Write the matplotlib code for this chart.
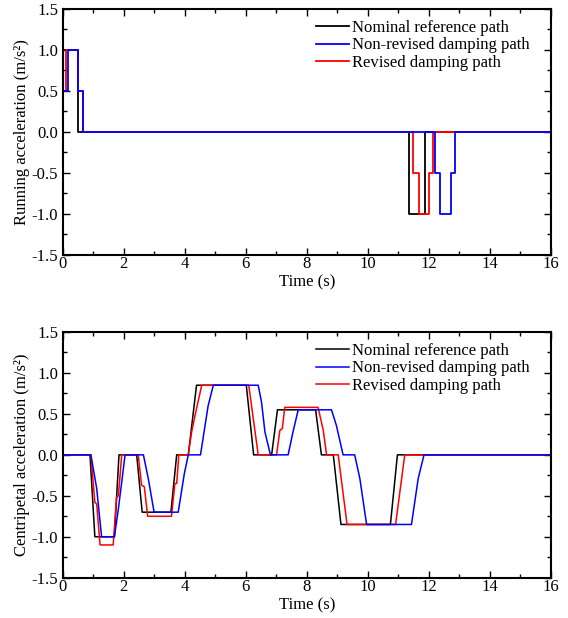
import matplotlib
matplotlib.use("Agg")
import matplotlib.pyplot as plt
from matplotlib.ticker import MultipleLocator, FormatStrFormatter

plt.rcParams['font.family'] = ['Liberation Serif', 'DejaVu Serif']
plt.rcParams['axes.unicode_minus'] = False
plt.rcParams['font.size'] = 12

labels = ["Nominal reference path", "Non-revised damping path", "Revised damping path"]
colors = ["#000000", "#0000FF", "#FF0000"]

# ---- Running acceleration (top) ----
run_black_t = [0, 0, 0.5, 0.5, 11.34, 11.34, 11.86, 11.86, 16]
run_black_v = [0, 1.0, 1.0, 0, 0, -1.0, -1.0, 0, 0]
run_blue_t = [0, 0, 0.17, 0.17, 0.5, 0.5, 0.66, 0.66, 12.21, 12.21, 12.38, 12.38, 12.72, 12.72, 12.86, 12.86, 16]
run_blue_v = [0, 0.5, 0.5, 1.0, 1.0, 0.5, 0.5, 0, 0, -0.5, -0.5, -1.0, -1.0, -0.5, -0.5, 0, 0]
run_red_t = [0, 0, 0.12, 0.12, 0.5, 0.5, 0.66, 0.66, 11.48, 11.48, 11.67, 11.67, 11.99, 11.99, 12.14, 12.14, 16]
run_red_v = [0, 0.5, 0.5, 1.0, 1.0, 0.5, 0.5, 0, 0, -0.5, -0.5, -1.0, -1.0, -0.5, -0.5, 0, 0]

# ---- Centripetal acceleration (bottom) ----
cen_black_t = [0, 0.90, 1.06, 1.70, 1.85, 2.43, 2.61, 3.55, 3.74, 4.12, 4.39, 6.02, 6.26,
               6.85, 7.04, 8.29, 8.48, 8.87, 9.12, 10.74, 10.97, 16]
cen_black_v = [0, 0, -1.0, -1.0, 0, 0, -0.7, -0.7, 0, 0, 0.85, 0.85, 0,
               0, 0.55, 0.55, 0, 0, -0.85, -0.85, 0, 0]
cen_red_t = [0, 0.93, 1.06, 1.12, 1.23, 1.66, 1.77, 1.83, 1.94, 2.48, 2.59, 2.68, 2.79,
             3.57, 3.68, 3.74, 3.81, 4.12, 4.23, 4.34, 4.56, 6.10, 6.41, 7.01, 7.12,
             7.20, 7.28, 8.37, 8.48, 8.54, 8.65, 9.03, 9.32, 10.91, 11.21, 16]
cen_red_v = [0, 0, -0.58, -0.60, -1.1, -1.1, -0.52, -0.50, 0, 0, -0.37, -0.39, -0.75,
             -0.75, -0.35, -0.35, 0, 0, 0.28, 0.48, 0.85, 0.85, 0, 0, 0.30,
             0.32, 0.58, 0.58, 0.40, 0.30, 0, 0, -0.85, -0.85, 0, 0]
cen_blue_t = [0, 0.93, 1.12, 1.28, 1.70, 1.83, 2.05, 2.65, 2.81, 3.0, 3.79, 3.99, 4.12,
              4.52, 4.77, 4.94, 6.41, 6.52, 6.63, 6.81, 7.39, 7.55, 7.72, 8.81, 8.97,
              9.19, 9.57, 9.74, 9.85, 9.96, 11.43, 11.65, 11.84, 16]
cen_blue_v = [0, 0, -0.41, -1.0, -1.0, -0.66, 0, 0, -0.29, -0.7, -0.7, -0.23, 0,
              0, 0.60, 0.85, 0.85, 0.64, 0.28, 0, 0, 0.28, 0.55, 0.55, 0.36,
              0, 0, -0.29, -0.57, -0.85, -0.85, -0.29, 0, 0]

W, H = 568, 618
fig = plt.figure(figsize=(W / 100, H / 100), dpi=100)

def make_axes(top_px, bottom_px):
    left, right = 62.5, 551
    return fig.add_axes([left / W, 1 - bottom_px / H, (right - left) / W, (bottom_px - top_px) / H])

def style(ax, ylabel):
    ax.set_xlim(0, 16)
    ax.set_ylim(-1.5, 1.5)
    ax.xaxis.set_major_locator(MultipleLocator(2))
    ax.xaxis.set_minor_locator(MultipleLocator(1))
    ax.yaxis.set_major_locator(MultipleLocator(0.5))
    ax.yaxis.set_minor_locator(MultipleLocator(0.25))
    ax.yaxis.set_major_formatter(FormatStrFormatter('%.1f'))
    ax.tick_params(which='both', direction='in', top=True, right=True, width=1.0)
    ax.tick_params(which='major', length=5, labelsize=12)
    ax.tick_params(axis='x', which='major', pad=1)
    ax.tick_params(axis='y', which='major', pad=3)
    ax.tick_params(which='minor', length=3)
    for s in ax.spines.values():
        s.set_linewidth(1.5)
    ax.set_xlabel("Time (s)", fontsize=12, labelpad=1.5)
    ax.set_ylabel(ylabel, fontsize=12, labelpad=1)

def add_legend(ax, handles, top_px):
    ax.legend(handles, labels, loc='upper left', bbox_to_anchor=(316 / W, 1 - top_px / H),
              bbox_transform=fig.transFigure, frameon=False, fontsize=12,
              handlelength=2.0, handletextpad=0.15, labelspacing=0.08,
              borderpad=0, borderaxespad=0)

ax1 = make_axes(9, 254.7)
l_b, = ax1.plot(run_black_t, run_black_v, color=colors[0], lw=1.3)
l_r, = ax1.plot(run_red_t, run_red_v, color=colors[2], lw=1.3)
l_u, = ax1.plot(run_blue_t, run_blue_v, color=colors[1], lw=1.3)
style(ax1, "Running acceleration (m/s²)")
add_legend(ax1, [l_b, l_u, l_r], 20)

ax2 = make_axes(332, 577.7)
m_b, = ax2.plot(cen_black_t, cen_black_v, color=colors[0], lw=1.1)
m_r, = ax2.plot(cen_red_t, cen_red_v, color=colors[2], lw=1.1)
m_u, = ax2.plot(cen_blue_t, cen_blue_v, color=colors[1], lw=1.1)
style(ax2, "Centripetal acceleration (m/s²)")
add_legend(ax2, [m_b, m_u, m_r], 343)

fig.savefig("out.png", dpi=100)
